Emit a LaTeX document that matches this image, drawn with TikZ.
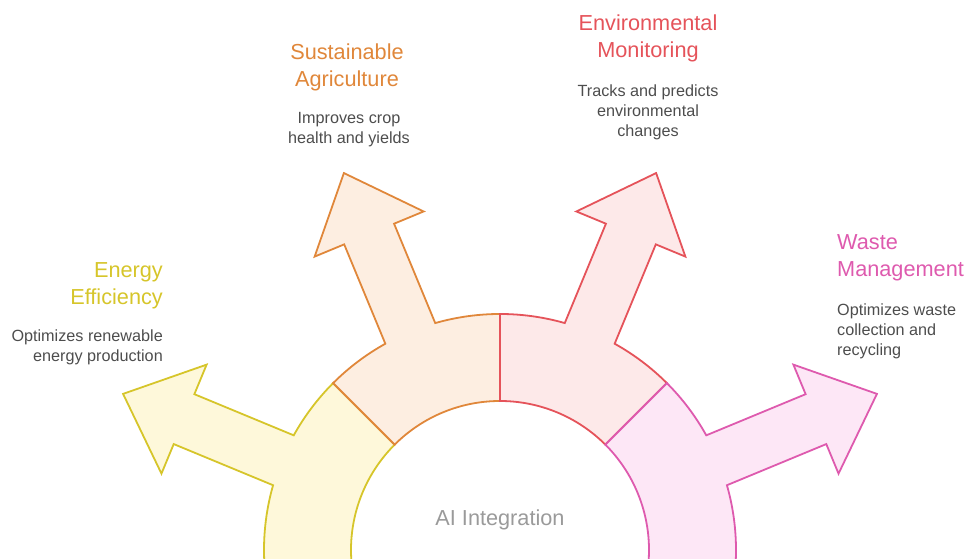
\documentclass[tikz,border=0pt]{standalone}
\usepackage{fontspec}
\setmainfont{Liberation Sans}
\usetikzlibrary{calc}
\definecolor{ystroke}{HTML}{D6C52A}
\definecolor{yfill}{HTML}{FEF8DA}
\definecolor{ostroke}{HTML}{E0873A}
\definecolor{ofill}{HTML}{FDEEE1}
\definecolor{rstroke}{HTML}{E5535A}
\definecolor{rfill}{HTML}{FDE9E9}
\definecolor{pstroke}{HTML}{DE5AAE}
\definecolor{pfill}{HTML}{FDE7F6}
\definecolor{desccol}{HTML}{4D4D4D}
\definecolor{aigray}{HTML}{9A9A9A}
\newcommand\ringseg[5]{%
  \draw[seg, draw=#4, fill=#5]
    ($(c)+(#1:\Ri)$) -- ($(c)+(#1:\Ro)$)
    arc[start angle=#1, end angle={#2+\da}, radius=\Ro]
    -- ($(c)+(#2:\Rb)+(#2+90:\hw)$)
    -- ($(c)+(#2:\Rb)+(#2+90:\bw)$)
    -- ($(c)+(#2:\Rt)$)
    -- ($(c)+(#2:\Rb)+(#2-90:\bw)$)
    -- ($(c)+(#2:\Rb)+(#2-90:\hw)$)
    -- ($(c)+(#2-\da:\Ro)$)
    arc[start angle={#2-\da}, end angle=#3, radius=\Ro]
    -- ($(c)+(#3:\Ri)$)
    arc[start angle=#3, end angle=#1, radius=\Ri]
    -- cycle;}
\begin{document}
\begin{tikzpicture}[x=1pt,y=1pt,
  seg/.style={line width=1.8pt, line join=miter},
  title/.style={font=\fontsize{21.7}{27}\selectfont, inner sep=0pt},
  desc/.style={font=\fontsize{16.2}{20}\selectfont, text=desccol, inner sep=0pt}]
\useasboundingbox (0,0) rectangle (967,559);
\coordinate (c) at (500,9);
\pgfmathsetmacro\Ro{236}
\pgfmathsetmacro\Ri{149}
\pgfmathsetmacro\Rb{342}
\pgfmathsetmacro\Rt{408}
\pgfmathsetmacro\hw{27}
\pgfmathsetmacro\bw{59}
\pgfmathsetmacro\da{asin(\hw/\Ro)}
\begin{scope}
  \clip (0,0) rectangle (967,559);
  \ringseg{190}{157.5}{135}{ystroke}{yfill}
  \ringseg{135}{112.5}{90}{ostroke}{ofill}
  \ringseg{90}{67.5}{45}{rstroke}{rfill}
  \ringseg{45}{22.5}{-10}{pstroke}{pfill}
\end{scope}
\node[title, text=ystroke, align=right, anchor=base east] (t1) at (163,254) {Energy\\Efficiency};
\node[desc, align=right, anchor=base east] (d1) at (163,197) {Optimizes renewable\\energy production};
\node[title, text=ostroke, align=center, anchor=base] (t2) at (347,472.5) {Sustainable\\Agriculture};
\node[desc, align=center, anchor=base] (d2) at (349,415.5) {Improves crop\\health and yields};
\node[title, text=rstroke, align=center, anchor=base] (t3) at (648,501) {Environmental\\Monitoring};
\node[desc, align=center, anchor=base] (d3) at (648,422) {Tracks and predicts\\environmental\\changes};
\node[title, text=pstroke, align=left, anchor=base west] (t4) at (837,282) {Waste\\Management};
\node[desc, align=left, anchor=base west] (d4) at (837,203) {Optimizes waste\\collection and\\recycling};
\node[font=\fontsize{21.7}{26}\selectfont, text=aigray, anchor=base, inner sep=0pt] (ai) at (500,33) {AI Integration};
\end{tikzpicture}
\end{document}
